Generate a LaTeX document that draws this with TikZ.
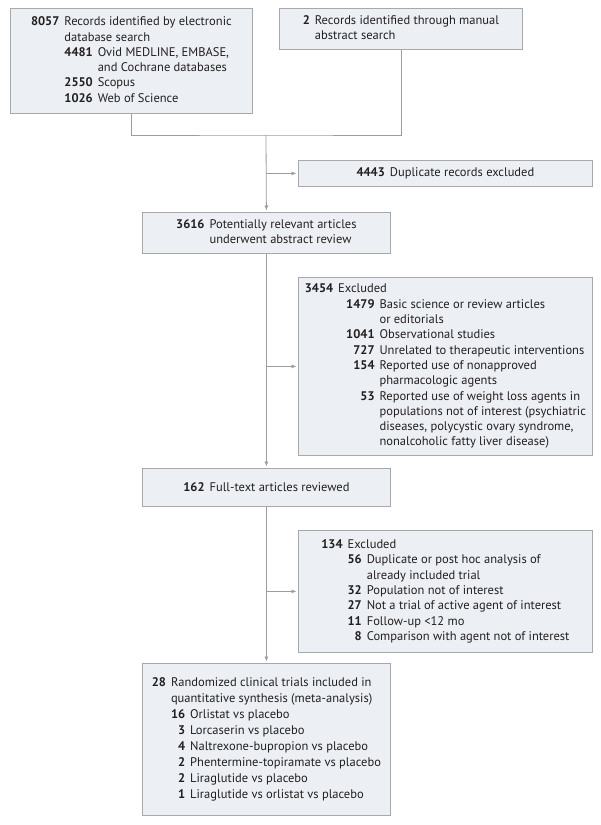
\documentclass[tikz,border=0pt]{standalone}
\usepackage{fontspec}
\setmainfont{PT Sans}
\usepackage{array}
\usepackage{xcolor}
\usetikzlibrary{arrows.meta}
\definecolor{boxfill}{HTML}{ECEFF3}
\definecolor{boxline}{HTML}{A8A8A8}
\definecolor{connline}{HTML}{9C9C9C}
\definecolor{ink}{HTML}{231F20}
\tikzstyle{box}=[draw=boxline, fill=boxfill, line width=0.8pt, inner sep=0pt, anchor=north west, text=ink, font=\fontsize{12.5}{15.3}\selectfont]
\tikzstyle{conn}=[draw=connline, line width=0.8pt]
\tikzstyle{arr}=[conn, -{Latex[length=5pt,width=4pt]}, shorten >=1.5pt]
\newcommand{\cnt}[1]{\textbf{#1}}

\begin{document}
\begin{tikzpicture}[x=1pt,y=-1pt]
\path[use as bounding box, fill=white] (0,0) rectangle (601,825);
\node[box, minimum width=242, minimum height=105] (db) at (10,8) {\begin{tabular}{@{}r@{\hspace{5pt}}r@{\hspace{5pt}}l@{}}
\cnt{8057} & \multicolumn{2}{@{}l@{}}{Records identified by electronic}\\
 & \multicolumn{2}{@{}l@{}}{database search}\\
 & \cnt{4481} & Ovid MEDLINE, EMBASE,\\
 & & and Cochrane databases\\
 & \cnt{2550} & Scopus\\
 & \cnt{1026} & Web of Science
\end{tabular}};
\node[box, minimum width=243, minimum height=41] (man) at (279,8) {\begin{tabular}{@{}r@{\hspace{5pt}}l@{}}
\cnt{2} & Records identified through manual\\
 & abstract search
\end{tabular}};
\node[box, minimum width=294, minimum height=26] (dup) at (298,160) {\cnt{4443}\hspace{5pt}Duplicate records excluded};
\node[box, minimum width=248, minimum height=41] (abs) at (142,212) {\begin{tabular}{@{}r@{\hspace{5pt}}l@{}}
\cnt{3616} & Potentially relevant articles\\
 & underwent abstract review
\end{tabular}};
\node[box, minimum width=294, minimum height=178] (ex1) at (298,277) {\begin{tabular}{@{}r@{\hspace{5pt}}r@{\hspace{5pt}}l@{}}
\cnt{3454} & \multicolumn{2}{@{}l@{}}{Excluded}\\
 & \hspace*{8pt}\cnt{1479} & Basic science or review articles\\
 & & or editorials\\
 & \cnt{1041} & Observational studies\\
 & \cnt{727} & Unrelated to therapeutic interventions\\
 & \cnt{154} & Reported use of nonapproved\\
 & & pharmacologic agents\\
 & \cnt{53} & Reported use of weight loss agents in\\
 & & populations not of interest (psychiatric\\
 & & diseases, polycystic ovary syndrome,\\
 & & nonalcoholic fatty liver disease)
\end{tabular}};
\node[box, minimum width=248, minimum height=38] (ft) at (142,468) {\cnt{162}\hspace{5pt}Full-text articles reviewed};
\node[box, minimum width=294, minimum height=122] (ex2) at (298,530) {\begin{tabular}{@{}r@{\hspace{5pt}}r@{\hspace{5pt}}l@{}}
\cnt{134} & \multicolumn{2}{@{}l@{}}{Excluded}\\
 & \cnt{56} & Duplicate or post hoc analysis of\\
 & & already included trial\\
 & \cnt{32} & Population not of interest\\
 & \cnt{27} & Not a trial of active agent of interest\\
 & \cnt{11} & Follow-up <12 mo\\
 & \cnt{8} & Comparison with agent not of interest
\end{tabular}};
\node[box, minimum width=248, minimum height=152, font=\fontsize{12.5}{16}\selectfont] (inc) at (142,663) {\begin{tabular}{@{}r@{\hspace{5pt}}r@{\hspace{5pt}}l@{}}
\cnt{28} & \multicolumn{2}{@{}l@{}}{Randomized clinical trials included in}\\
 & \multicolumn{2}{@{}l@{}}{quantitative synthesis (meta-analysis)}\\
 & \cnt{16} & Orlistat vs placebo\\
 & \cnt{3} & Lorcaserin vs placebo\\
 & \cnt{4} & Naltrexone-bupropion vs placebo\\
 & \cnt{2} & Phentermine-topiramate vs placebo\\
 & \cnt{2} & Liraglutide vs placebo\\
 & \cnt{1} & Liraglutide vs orlistat vs placebo
\end{tabular}};
\coordinate (j) at (266,135);
\draw[conn] (db.south) |- (j) -| (man.south);
\draw[arr] (j) -- (abs.north);
\draw[arr] (j |- dup.west) -- (dup.west);
\draw[arr] (abs.south) -- (ft.north);
\draw[arr] (abs.south |- ex1.west) -- (ex1.west);
\draw[arr] (ft.south) -- (inc.north);
\draw[arr] (ft.south |- ex2.west) -- (ex2.west);
\end{tikzpicture}
\end{document}
